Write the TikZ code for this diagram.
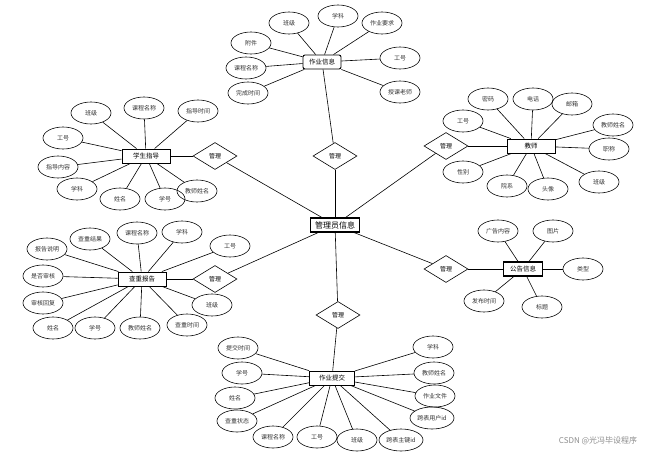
\documentclass[tikz,border=0pt]{standalone}
\usepackage{fontspec}
\newfontfamily\cjk{Noto Sans CJK SC}
\usetikzlibrary{shapes.geometric,positioning}
\tikzset{
  attr/.style={draw,ellipse,minimum width=40pt,minimum height=22pt,
               inner sep=0pt,line width=0.6pt,text=black!80,
               font=\cjk\fontsize{6}{7}\selectfont},
  entity/.style={draw,rectangle,minimum width=46pt,minimum height=14pt,
                 inner sep=1pt,line width=0.9pt,fill=white,
                 font=\cjk\fontsize{6.5}{7}\selectfont},
  relbox/.style={draw,diamond,minimum width=44pt,minimum height=27pt,
                 inner sep=0pt,line width=0.6pt,
                 font=\cjk\fontsize{6}{7}\selectfont},
  link/.style={line width=0.6pt},
  elink/.style={line width=1pt},
}
\begin{document}
\begin{tikzpicture}[x=1pt,y=-1pt]
  \useasboundingbox (0,0) rectangle (669,455);

  % center and the six relations
  \node[entity,minimum width=49pt,line width=1.2pt,
        font=\cjk\fontsize{8}{9}\selectfont] (admin) at (335,225) {管理员信息};
  \node[relbox] (mgTop) at (335,156) {管理};
  \node[relbox] (mgUL) at (215,156) {管理};
  \node[relbox] (mgLL) at (215,279) {管理};
  \node[relbox] (mgUR) at (446,146) {管理};
  \node[relbox] (mgLR) at (446,269) {管理};
  \node[relbox] (mgBot) at (338,315) {管理};

  % entities
  \node[entity,minimum width=38pt,rounded corners=2pt] (hwInfo) at (322,62) {作业信息};
  \node[entity,minimum width=48pt] (guide) at (146,156) {学生指导};
  \node[entity,minimum width=48pt] (teacher) at (531,146) {教师};
  \node[entity,minimum width=48pt] (report) at (142,279) {查重报告};
  \node[entity,minimum width=39pt,line width=1.2pt] (notice) at (523,269) {公告信息};
  \node[entity,minimum width=45pt] (submit) at (332,378) {作业提交};

  \foreach \r in {mgTop,mgUL,mgLL,mgUR,mgLR,mgBot}
    \draw[link] (admin) -- (\r);
  \draw[link] (mgTop) -- (hwInfo);
  \draw[elink] (mgUL) -- (guide);
  \draw[link] (mgLL) -- (report);
  \draw[link] (mgUR) -- (teacher);
  \draw[link] (mgLR) -- (notice);
  \draw[link] (mgBot) -- (submit);

  % 作业信息
  \node[attr] (hw1) at (289,23) {班级};
  \node[attr] (hw2) at (338,16) {学科};
  \node[attr] (hw3) at (382,23) {作业要求};
  \node[attr] (hw4) at (251,43) {附件};
  \node[attr] (hw5) at (246,68) {课程名称};
  \node[attr] (hw6) at (248,93) {完成时间};
  \node[attr] (hw7) at (400,58) {工号};
  \node[attr] (hw8) at (400,92) {授课老师};
  \foreach \i in {1,...,8}
    \draw[link] (hwInfo) -- (hw\i);

  % 学生指导
  \node[attr] (gd1) at (91,113) {班级};
  \node[attr] (gd2) at (144,108) {课程名称};
  \node[attr] (gd3) at (198,111) {指导时间};
  \node[attr] (gd4) at (63,138) {工号};
  \node[attr] (gd5) at (58,167) {指导内容};
  \node[attr] (gd6) at (77,189) {学科};
  \node[attr] (gd7) at (120,199) {姓名};
  \node[attr] (gd8) at (165,199) {学号};
  \node[attr] (gd9) at (197,191) {教师姓名};
  \foreach \i in {1,...,9}
    \draw[link] (guide) -- (gd\i);

  % 教师
  \node[attr] (tc1) at (488,99) {密码};
  \node[attr] (tc2) at (533,99) {电话};
  \node[attr] (tc3) at (572,104) {邮箱};
  \node[attr] (tc4) at (463,121) {工号};
  \node[attr] (tc5) at (613,125) {教师姓名};
  \node[attr] (tc6) at (609,149) {职称};
  \node[attr] (tc7) at (599,182) {班级};
  \node[attr] (tc8) at (463,172) {性别};
  \node[attr] (tc9) at (507,186) {院系};
  \node[attr] (tc10) at (548,189) {头像};
  \foreach \i in {1,...,10}
    \draw[link] (teacher) -- (tc\i);

  % 查重报告
  \node[attr] (rp1) at (47,249) {报告说明};
  \node[attr] (rp2) at (90,239) {查重结果};
  \node[attr] (rp3) at (137,233) {课程名称};
  \node[attr] (rp4) at (182,232) {学科};
  \node[attr] (rp5) at (230,246) {工号};
  \node[attr] (rp6) at (43,276) {是否审核};
  \node[attr] (rp7) at (43,303) {审核回复};
  \node[attr] (rp8) at (53,328) {姓名};
  \node[attr] (rp9) at (95,328) {学号};
  \node[attr] (rp10) at (140,328) {教师姓名};
  \node[attr] (rp11) at (187,325) {查重时间};
  \node[attr] (rp12) at (212,305) {班级};
  \foreach \i in {1,...,12}
    \draw[link] (report) -- (rp\i);

  % 公告信息
  \node[attr] (nt1) at (498,231) {广告内容};
  \node[attr] (nt2) at (553,231) {图片};
  \node[attr] (nt3) at (583,269) {类型};
  \node[attr] (nt4) at (484,301) {发布时间};
  \node[attr] (nt5) at (542,307) {标题};
  \foreach \i in {1,...,5}
    \draw[link] (notice) -- (nt\i);

  % 作业提交
  \node[attr] (sb1) at (238,348) {提交时间};
  \node[attr] (sb2) at (242,373) {学号};
  \node[attr] (sb3) at (235,398) {姓名};
  \node[attr] (sb4) at (237,421) {查重状态};
  \node[attr] (sb5) at (273,437) {课程名称};
  \node[attr] (sb6) at (317,437) {工号};
  \node[attr] (sb7) at (357,440) {班级};
  \node[attr,minimum width=44pt] (sb8) at (401,440) {跨表主键id};
  \node[attr] (sb9) at (433,347) {学科};
  \node[attr] (sb10) at (434,373) {教师姓名};
  \node[attr] (sb11) at (435,396) {作业文件};
  \node[attr,minimum width=44pt] (sb12) at (432,418) {跨表用户id};
  \foreach \i in {1,...,12}
    \draw[link] (submit) -- (sb\i);

  \node[text=black!45,font=\cjk\fontsize{8}{9}\selectfont] (mark) at (598,441) {CSDN @光冯毕设程序};
\end{tikzpicture}
\end{document}
